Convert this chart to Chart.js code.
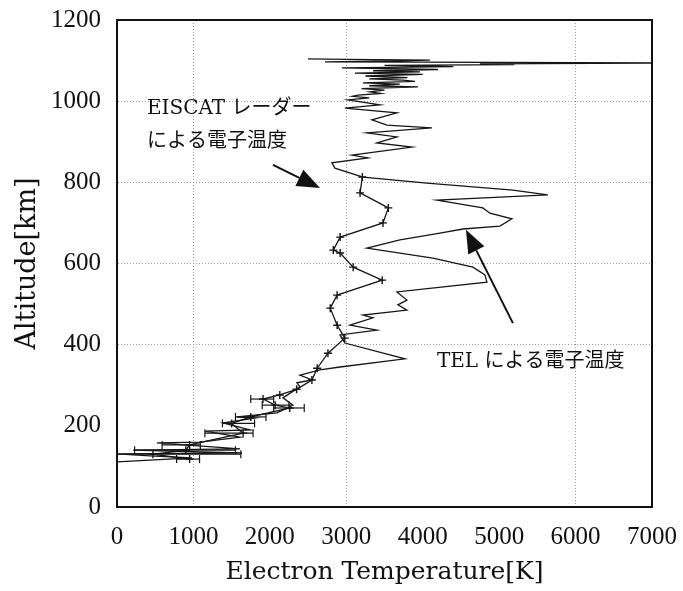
<!DOCTYPE html>
<html><head><meta charset="utf-8">
<script src="https://cdn.jsdelivr.net/npm/chart.js@4.4.1/dist/chart.umd.min.js"></script>
<style>html,body{margin:0;padding:0;background:#fff;}#wrap{width:683px;height:591px;}</style>
</head><body><div id="wrap"><canvas id="c" width="683" height="591"></canvas></div>
<script>
// ---- data ----
const xTicks = [0, 1000, 2000, 3000, 4000, 5000, 6000, 7000];
const yTicks = [0, 200, 400, 600, 800, 1000, 1200];
const xTitle = 'Electron Temperature[K]';
const yTitle = 'Altitude[km]';

// TEL electron temperature profile (K) vs altitude (km)
const telT = [0, 981, 432, 0, 1635, 209, 1609, 523, 1086, 1609, 1151, 1740, 1386, 1805, 1570, 2093, 2302, 2171, 2394, 2354,
  2551, 2394, 2655, 2917, 3767, 2982, 2917, 3400, 3048, 3349, 3218, 3793, 3675, 3793, 3662, 4840, 4814, 4657, 4133, 3270,
  3702, 4225, 4526, 5010, 5167, 4879, 4787, 4186, 5637, 5180, 4055, 3218, 2851, 2812, 3283, 3074, 3859, 3400, 3662, 3270,
  4120, 3532, 3335, 3662, 2982, 3440,
  3022, 3300, 3080, 3152, 3450, 3309, 3500, 3200, 3937, 3300, 3700, 3218, 3900, 3741, 3300, 3800, 3250, 4000, 3113, 3963,
  3350, 4200, 2943, 4400, 3500, 5200, 4748, 7000, 4000, 2721, 3600, 4094, 3000, 2498];
const telAlt = [111, 121, 126, 131, 133, 140, 143, 158, 160, 172, 187, 190, 207, 219, 222, 232, 251, 269, 296, 306,
  313, 325, 338, 345, 365, 404, 424, 436, 448, 466, 473, 485, 498, 510, 530, 554, 572, 591, 613, 638,
  658, 675, 685, 692, 710, 724, 737, 756, 769, 781, 798, 813, 835, 848, 860, 867, 887, 897, 912, 922,
  934, 941, 954, 971, 983, 991,
  1003, 1008, 1012, 1015, 1019, 1023, 1027, 1031, 1035, 1038, 1042, 1045, 1049, 1052, 1055, 1058, 1062, 1066, 1069, 1072,
  1075, 1078, 1082, 1085, 1088, 1090, 1092, 1094, 1096, 1097, 1099, 1101, 1103, 1104];

// EISCAT radar electron temperature
const eiscatAlt = [118, 130, 140, 153, 182, 206, 222, 244, 251, 266, 276, 290, 313, 342, 379, 416, 448, 490, 522, 559, 591, 626, 633, 665, 700, 737, 774, 813];
const eiscatT = [950, 470, 900, 950, 1650, 1500, 1750, 2260, 2070, 1910, 2130, 2350, 2550, 2620, 2760, 2980, 2880, 2790, 2880, 3470, 3090, 2920, 2830, 2920, 3480, 3550, 3180, 3210];
const eiscatLo = [780, 0, 230, 590, 1150, 1380, 1550, 2050, 1900, 1750];
const eiscatHi = [1080, 1620, 1550, 1090, 1780, 1800, 1950, 2450, 2250, 2050];

// annotations (text, data position)
const noteTexts = ['EISCAT レーダー', 'による電子温度', 'TEL による電子温度'];
const noteT = [392, 392, 4186];
const noteAlt = [980, 900, 357];
const arrowFromT = [2041, 5180], arrowFromAlt = [843, 453];
const arrowToT = [2656, 4566], arrowToAlt = [786, 683];

// ---- build ----
const ink = '#161616';
const datasets = [];
datasets.push({
  label: 'TEL', data: telT.map((t, i) => ({x: t, y: telAlt[i]})),
  showLine: true, borderColor: ink, borderWidth: 1.3, pointRadius: 0, tension: 0
});
datasets.push({
  label: 'EISCAT', data: eiscatT.map((t, i) => ({x: t, y: eiscatAlt[i]})),
  showLine: true, borderColor: ink, borderWidth: 1.3, pointStyle: 'cross', pointRadius: 4,
  pointBorderColor: ink, pointBorderWidth: 1.4, tension: 0
});
eiscatLo.forEach((lo, i) => {
  datasets.push({
    label: 'err' + i, data: [{x: lo, y: eiscatAlt[i]}, {x: eiscatHi[i], y: eiscatAlt[i]}],
    showLine: true, borderColor: ink, borderWidth: 1.2, pointStyle: 'line', rotation: 90,
    pointRadius: 4, pointBorderColor: ink, pointBorderWidth: 1.2
  });
});

const serif = '"DejaVu Serif", "Noto Sans CJK JP", serif';
const gridX = [1000, 3000, 6000];
const gridY = [400, 600, 800, 1000];

const frame = {
  id: 'frame',
  afterDatasetsDraw(chart) {
    const {ctx, chartArea: a, scales: {x, y}} = chart;
    ctx.save();
    ctx.strokeStyle = '#111'; ctx.lineWidth = 2;
    ctx.strokeRect(a.left, a.top, a.right - a.left, a.bottom - a.top);
    ctx.fillStyle = '#111';
    ctx.font = '20px ' + serif;
    ctx.textBaseline = 'middle'; ctx.textAlign = 'left';
    noteTexts.forEach((s, i) => ctx.fillText(s, x.getPixelForValue(noteT[i]), y.getPixelForValue(noteAlt[i])));
    ctx.strokeStyle = '#111'; ctx.lineWidth = 2;
    arrowFromT.forEach((ft, i) => {
      const x0 = x.getPixelForValue(ft), y0 = y.getPixelForValue(arrowFromAlt[i]);
      const x1 = x.getPixelForValue(arrowToT[i]), y1 = y.getPixelForValue(arrowToAlt[i]);
      const ang = Math.atan2(y1 - y0, x1 - x0);
      const L = 23, W = 9;
      const bx = x1 - L * Math.cos(ang), by = y1 - L * Math.sin(ang);
      ctx.beginPath(); ctx.moveTo(x0, y0); ctx.lineTo(bx, by); ctx.stroke();
      ctx.beginPath(); ctx.moveTo(x1, y1);
      ctx.lineTo(bx + W * Math.sin(ang), by - W * Math.cos(ang));
      ctx.lineTo(bx - W * Math.sin(ang), by + W * Math.cos(ang));
      ctx.closePath(); ctx.fill();
    });
    ctx.restore();
  }
};

new Chart(document.getElementById('c'), {
  type: 'scatter',
  data: {datasets},
  options: {
    responsive: false, animation: false, devicePixelRatio: 1,
    layout: {padding: {left: 0, top: 20, right: 31, bottom: 0}},
    plugins: {legend: {display: false}, tooltip: {enabled: false}},
    scales: {
      x: {
        type: 'linear', min: 0, max: 7000,
        afterBuildTicks: s => { s.ticks = xTicks.map(v => ({value: v})); },
        afterFit: s => { s.height = 84; s.paddingLeft = 0; s.paddingRight = 0; },
        ticks: {font: {family: 'Liberation Serif', size: 25}, color: '#111', padding: 15, maxRotation: 0, autoSkip: false,
                callback: v => String(v)},
        grid: {color: c => gridX.includes(c.tick && c.tick.value) ? '#9a9a9a' : 'rgba(0,0,0,0)', lineWidth: 1, drawTicks: false},
        border: {display: true, color: '#111', width: 2, dash: [1, 2]},
        title: {display: true, text: xTitle, font: {family: serif, size: 25}, color: '#111', padding: {top: 0, bottom: 4}}
      },
      y: {
        type: 'linear', min: 0, max: 1200,
        afterBuildTicks: s => { s.ticks = yTicks.map(v => ({value: v})); },
        afterFit: s => { s.width = 117; s.paddingTop = 0; s.paddingBottom = 0; },
        ticks: {font: {family: 'Liberation Serif', size: 25}, color: '#111', padding: 16, callback: v => String(v)},
        grid: {color: c => gridY.includes(c.tick && c.tick.value) ? '#9a9a9a' : 'rgba(0,0,0,0)', lineWidth: 1, drawTicks: false},
        border: {display: true, color: '#111', width: 2, dash: [1, 2]},
        title: {display: true, text: yTitle, font: {family: serif, size: 27}, color: '#111', padding: {top: 12, bottom: 0}}
      }
    }
  },
  plugins: [frame]
});
</script></body></html>
